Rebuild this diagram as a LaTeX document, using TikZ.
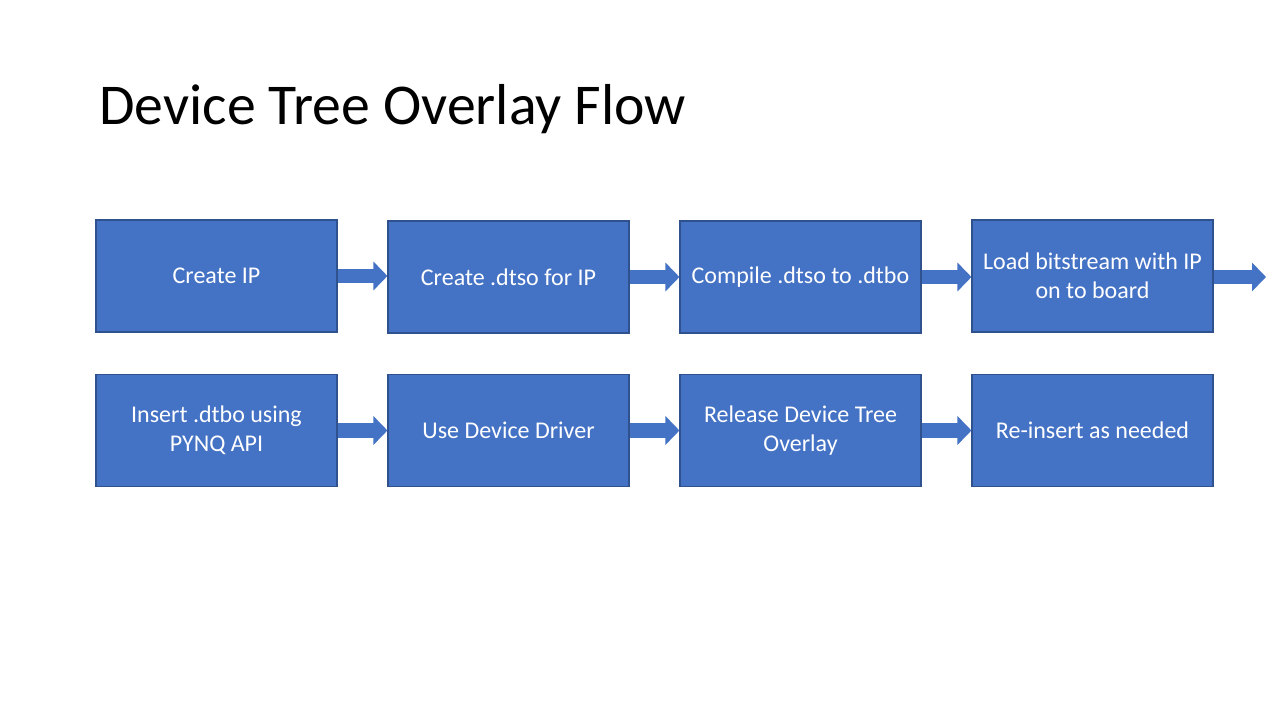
\documentclass[tikz,border=0pt]{standalone}
\usepackage{fontspec}
\setmainfont{Carlito}
\usetikzlibrary{arrows.meta}
\definecolor{boxfill}{HTML}{4472C4}
\definecolor{boxline}{HTML}{2F528F}
\begin{document}
\begin{tikzpicture}[x=0.75pt,y=-0.75pt,
  stepbox/.style={rectangle,fill=boxfill,draw=boxline,line width=0.8pt,
    minimum width=180.75pt,minimum height=84pt,inner sep=0pt,
    text=white,align=center,font=\fontsize{18}{21.6}\selectfont},
  blockarrow/.style={draw=boxfill,line width=11pt,
    -{Triangle[length=10.5pt,width=21pt]}}]
\useasboundingbox (0,0) rectangle (1280,720);
\fill[white] (0,0) rectangle (1280,720);
\node[anchor=base west,inner sep=0pt,font=\fontsize{43.3}{52}\selectfont] (title) at (99,125) {Device Tree Overlay Flow};
\node[stepbox] (b1) at (216.5,276) {Create IP};
\node[stepbox] (b2) at (508.5,277) {Create .dtso for IP};
\node[stepbox] (b3) at (800.5,277) {Compile .dtso to .dtbo};
\node[stepbox] (b4) at (1092.5,276) {Load bitstream with IP\\on to board};
\node[stepbox] (c1) at (216.5,430.5) {Insert .dtbo using\\PYNQ API};
\node[stepbox] (c2) at (508.5,430.5) {Use Device Driver};
\node[stepbox] (c3) at (800.5,430.5) {Release Device Tree\\Overlay};
\node[stepbox] (c4) at (1092.5,430.5) {Re-insert as needed};
\coordinate (end) at (1266,277);
\draw[blockarrow] (b1.east) -- (b2.west |- b1.east);
\draw[blockarrow] (b2.east) -- (b3.west);
\draw[blockarrow] (b3.east) -- (b4.west |- b3.east);
\draw[blockarrow] (b4.east |- end) -- (end);
\draw[blockarrow] (c1.east) -- (c2.west);
\draw[blockarrow] (c2.east) -- (c3.west);
\draw[blockarrow] (c3.east) -- (c4.west);
\end{tikzpicture}
\end{document}
